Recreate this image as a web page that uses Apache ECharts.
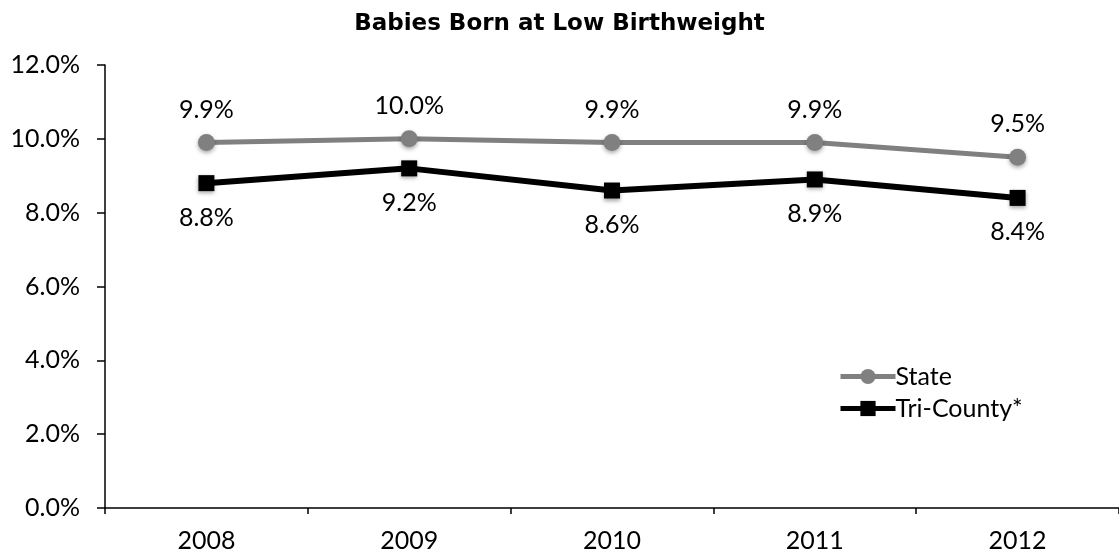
<!DOCTYPE html>
<html><head><meta charset="utf-8">
<script src="https://cdn.jsdelivr.net/npm/echarts@6/dist/echarts.min.js"></script>
<style>html,body{margin:0;padding:0;background:#fff}#c{width:1119px;height:557px}</style>
</head><body><div id="c"></div>
<script>
const title = 'Babies Born at Low Birthweight';
const categories = ['2008','2009','2010','2011','2012'];
const stateValues = [9.9, 10.0, 9.9, 9.9, 9.5];
const triCountyValues = [8.8, 9.2, 8.6, 8.9, 8.4];
const seriesNames = ['State','Tri-County*'];
const FONT = 'Lato';
const chart = echarts.init(document.getElementById('c'));
chart.setOption({
  animation:false,
  title:{text:title,left:'center',top:8,textStyle:{fontFamily:'DejaVu Sans',fontSize:23,fontWeight:'bold',color:'#000'}},
  legend:{orient:'vertical',left:838,top:364,padding:0,itemWidth:55,itemHeight:19,itemGap:7,
    lineStyle:{width:5},
    textStyle:{fontFamily:FONT,fontSize:25,color:'#000',padding:[0,0,0,-5]},
    data:seriesNames},
  grid:{left:105,right:-5,top:65,bottom:49,containLabel:false},
  xAxis:{type:'category',data:categories,boundaryGap:true,
    axisLine:{lineStyle:{color:'#000',width:1.5}},
    axisTick:{show:true,length:6,lineStyle:{color:'#000',width:1.5}},
    axisLabel:{fontFamily:FONT,fontSize:25,color:'#000',margin:20}},
  yAxis:{type:'value',min:0,max:12,interval:2,
    axisLine:{show:true,lineStyle:{color:'#000',width:1.5}},
    axisTick:{show:true,inside:false,length:8,lineStyle:{color:'#000',width:1.5}},
    splitLine:{show:false},
    axisLabel:{fontFamily:FONT,fontSize:25,color:'#000',margin:25,formatter:v=>v.toFixed(1)+'%'}},
  series:[
    {name:seriesNames[0],type:'line',data:stateValues,symbol:'circle',symbolSize:17,
      lineStyle:{color:'#808080',width:5},
      itemStyle:{color:'#808080',shadowBlur:4,shadowColor:'rgba(0,0,0,0.35)',shadowOffsetY:2},
      label:{show:true,position:'top',distance:12,fontFamily:FONT,fontSize:25,color:'#000',formatter:p=>p.value.toFixed(1)+'%'}},
    {name:seriesNames[1],type:'line',data:triCountyValues,symbol:'rect',symbolSize:16,
      lineStyle:{color:'#000',width:6},
      itemStyle:{color:'#000',shadowBlur:4,shadowColor:'rgba(0,0,0,0.35)',shadowOffsetY:2},
      label:{show:true,position:'bottom',distance:14,fontFamily:FONT,fontSize:25,color:'#000',formatter:p=>p.value.toFixed(1)+'%'}}
  ]
});
</script></body></html>
